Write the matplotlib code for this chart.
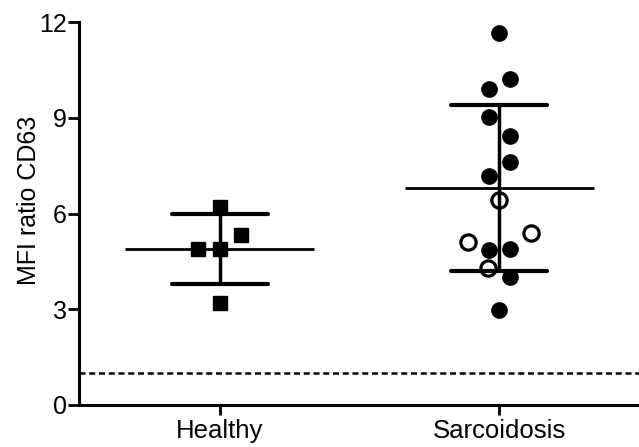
import numpy as np
import matplotlib
matplotlib.use("Agg")
import matplotlib.pyplot as plt

categories = ["Healthy", "Sarcoidosis"]

healthy_values = [6.2, 5.33, 4.88, 4.88, 3.2]
healthy_offsets = [0.0, 0.078, -0.076, 0.0, 0.0]

sarc_filled_values = [11.65, 10.21, 9.90, 9.01, 8.44, 7.60, 7.16, 4.86, 4.88, 4.02, 2.98]
sarc_filled_offsets = [0.0, 0.038, -0.037, -0.037, 0.038, 0.038, -0.037, -0.037, 0.040, 0.038, 0.0]
sarc_open_values = [6.43, 5.12, 5.38, 4.28]
sarc_open_offsets = [0.0, -0.111, 0.115, -0.04]

threshold = 1.0
yticks = [0, 3, 6, 9, 12]
ylabel = "MFI ratio CD63"

plt.rcParams['font.family'] = ['Liberation Sans', 'DejaVu Sans']

fig = plt.figure(figsize=(6.39, 4.47), dpi=100)
ax = fig.add_axes([79/639, 42/447, 1 - 79/639, 383/447])

# points
ax.plot(np.array(healthy_offsets) + 0, healthy_values, 's', color='black',
        ms=10.3, zorder=2, clip_on=False)
ax.plot(np.array(sarc_filled_offsets) + 1, sarc_filled_values, 'o', color='black',
        ms=11, zorder=2, clip_on=False)
ax.plot(np.array(sarc_open_offsets) + 1, sarc_open_values, 'o', mfc='white', mec='black',
        mew=2.3, ms=11, zorder=2, clip_on=False)

# mean and SD
groups = [np.array(healthy_values), np.array(sarc_filled_values + sarc_open_values)]
for i, g in enumerate(groups):
    m = g.mean()
    s = g.std(ddof=1)
    ax.plot([i - 0.338, i + 0.338], [m, m], color='black', lw=2.0, solid_capstyle='butt', zorder=3)
    ax.plot([i, i], [m - s, m + s], color='black', lw=2.5, solid_capstyle='butt', zorder=3)
    for y in (m - s, m + s):
        ax.plot([i - 0.172, i + 0.172], [y, y], color='black', lw=3.0,
                solid_capstyle='round', zorder=3)

ax.axhline(threshold, color='black', lw=1.8, linestyle=(0, (2.4, 1.5)), zorder=1)

ax.set_xlim(-0.503, 1.5)
ax.set_ylim(0, 12)
ax.set_xticks([0, 1])
ax.set_xticklabels(categories)
ax.set_yticks(yticks)
ax.set_ylabel(ylabel, fontsize=18, labelpad=-1.5)
ax.yaxis.label.set_y(0.535)

for sp in ['top', 'right']:
    ax.spines[sp].set_visible(False)
for sp in ['left', 'bottom']:
    ax.spines[sp].set_linewidth(2.2)

ax.tick_params(axis='y', length=8, width=2.0, labelsize=18, pad=1)
ax.tick_params(axis='x', length=7, width=2.0, labelsize=18.5, pad=3)

fig.savefig("out.png", dpi=100)
